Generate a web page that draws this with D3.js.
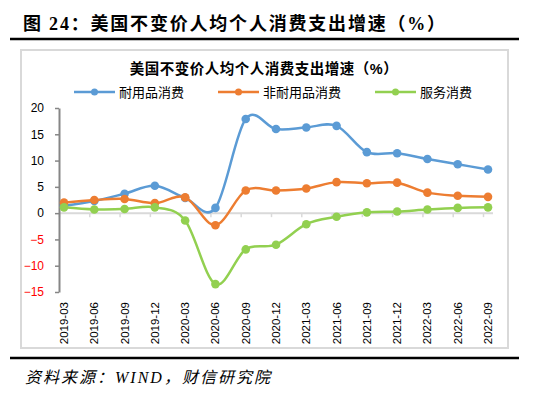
<!DOCTYPE html>
<html>
<head>
<meta charset="utf-8">
<script src="https://cdn.jsdelivr.net/npm/d3@7"></script>
<style>
    body { margin: 0; background: #fff; }
    svg text { font-family: "Liberation Sans", "Noto Sans CJK SC", sans-serif; }
</style>
</head>
<body>
<div id="chart"></div>
<script>
//VARIABLES
let categories = ['2019-03','2019-06','2019-09','2019-12','2020-03','2020-06','2020-09','2020-12',
    '2021-03','2021-06','2021-09','2021-12','2022-03','2022-06','2022-09'];
let durables = [1.4, 2.3, 3.7, 5.2, 2.9, 1.0, 17.9, 16.0, 16.3, 16.6, 11.6, 11.4, 10.3, 9.3, 8.3];
let nonDurables = [2.0, 2.5, 2.7, 1.9, 3.0, -2.3, 4.3, 4.3, 4.7, 5.9, 5.7, 5.8, 3.9, 3.3, 3.1];
let services = [1.1, 0.7, 0.8, 1.1, -1.4, -13.5, -6.9, -6.0, -2.1, -0.7, 0.15, 0.3, 0.7, 1.0, 1.1];
let seriesNames = ['耐用品消费', '非耐用品消费', '服务消费'];
let yTicks = [20, 15, 10, 5, 0, -5, -10, -15];
let colors = ['#5B9BD5', '#ED7D31', '#92D050'];

let figTitle = '图 24：美国不变价人均个人消费支出增速（%）';
let chartTitle = '美国不变价人均个人消费支出增速（%）';
let sourceText = '资料来源：WIND，财信研究院';

//INIT
initChart();

function initChart() {
    let width = 550, height = 396;
    let svg = d3.select('#chart').append('svg')
        .attr('width', width)
        .attr('height', height);

    //Figure title + rules
    svg.append('text')
        .attr('x', 23).attr('y', 30)
        .style('font-family', '"Liberation Serif", "Noto Sans CJK SC", serif')
        .style('font-size', '18px')
        .style('font-weight', 'bold')
        .style('letter-spacing', '1.8px')
        .attr('fill', '#000')
        .text(figTitle);

    svg.append('line')
        .attr('x1', 10).attr('x2', 519).attr('y1', 39).attr('y2', 39)
        .attr('stroke', '#000').attr('stroke-width', 2.5);

    svg.append('line')
        .attr('x1', 10).attr('x2', 519).attr('y1', 358).attr('y2', 358)
        .attr('stroke', '#000').attr('stroke-width', 2.5);

    svg.append('text')
        .attr('x', 25).attr('y', 383)
        .style('font-family', '"Liberation Serif", "Noto Sans CJK SC", serif')
        .style('font-size', '16px')
        .style('font-style', 'italic')
        .style('letter-spacing', '2px')
        .attr('fill', '#000')
        .text(sourceText);

    //Chart frame
    svg.append('rect')
        .attr('x', 21).attr('y', 50)
        .attr('width', 487).attr('height', 298)
        .attr('fill', '#fff')
        .attr('stroke', '#d9d9d9')
        .attr('stroke-width', 2);

    svg.append('text')
        .attr('x', 264).attr('y', 74)
        .attr('text-anchor', 'middle')
        .style('font-size', '14.5px')
        .style('font-weight', 'bold')
        .style('letter-spacing', '0.5px')
        .attr('fill', '#000')
        .text(chartTitle);

    //Scales
    let x = d3.scalePoint()
        .domain(categories)
        .range([64, 488]);

    let y = d3.scaleLinear()
        .domain([-15, 20])
        .range([292, 108]);

    //X axis (at zero)
    let xAxis = svg.append('g')
        .attr('class', 'x_axis')
        .attr('transform', 'translate(-5,' + y(0) + ')')
        .call(d3.axisBottom(x).tickSize(4).tickFormat(''));
    xAxis.select('.domain').remove();
    xAxis.selectAll('.tick line').attr('stroke', '#d9d9d9').attr('stroke-width', 1.5);

    svg.append('line')
        .attr('x1', 59).attr('x2', 493)
        .attr('y1', y(0)).attr('y2', y(0))
        .attr('stroke', '#d9d9d9').attr('stroke-width', 2);

    //X labels
    svg.append('g')
        .selectAll('text')
        .data(categories)
        .enter()
        .append('text')
        .attr('transform', function(d) { return 'translate(' + (x(d) + 4) + ',302) rotate(-90)'; })
        .attr('text-anchor', 'end')
        .style('font-size', '11.5px')
        .attr('fill', '#000')
        .text(function(d) { return d; });

    //Y axis
    let yAxis = svg.append('g')
        .attr('class', 'y_axis')
        .attr('transform', 'translate(59,0)')
        .call(d3.axisLeft(y).tickValues(yTicks).tickSize(4).tickSizeOuter(0).tickPadding(11));
    yAxis.select('.domain').attr('stroke', '#868686').attr('stroke-width', 2);
    yAxis.selectAll('.tick line').attr('stroke', '#868686').attr('stroke-width', 1.5);
    yAxis.selectAll('.tick text')
        .style('font-size', '12px')
        .style('font-family', '"Liberation Sans", Arial, sans-serif')
        .attr('fill', function(d) { return d < 0 ? '#ff0000' : '#000'; });

    //Lines
    let allSeries = [durables, nonDurables, services].map(function(values, i) {
        return {
            key: seriesNames[i],
            data: values.map(function(v, j) { return {cat: categories[j], value: v}; })
        };
    });

    let line = d3.line()
        .curve(d3.curveCardinal.tension(0))
        .x(function(d) { return x(d.cat); })
        .y(function(d) { return y(d.value); });

    let seriesG = svg.selectAll('.series')
        .data(allSeries)
        .enter()
        .append('g')
        .attr('class', 'series');

    seriesG.append('path')
        .attr('fill', 'none')
        .attr('stroke', function(d, i) { return colors[i]; })
        .attr('stroke-width', 2.5)
        .attr('d', function(d) { return line(d.data); });

    seriesG.each(function(s, i) {
        d3.select(this).selectAll('circle')
            .data(s.data)
            .enter()
            .append('circle')
            .attr('cx', function(d) { return x(d.cat); })
            .attr('cy', function(d) { return y(d.value); })
            .attr('r', 4.3)
            .attr('fill', colors[i]);
    });

    //Legend
    let legendX = [74, 218, 375];
    let legend = svg.selectAll('.legend')
        .data(seriesNames)
        .enter()
        .append('g')
        .attr('class', 'legend')
        .attr('transform', function(d, i) { return 'translate(' + legendX[i] + ',92)'; });

    legend.append('line')
        .attr('x1', 0).attr('x2', 41)
        .attr('stroke', function(d, i) { return colors[i]; })
        .attr('stroke-width', 2.5);

    legend.append('circle')
        .attr('cx', 20.5).attr('r', 3.5)
        .attr('fill', function(d, i) { return colors[i]; });

    legend.append('text')
        .attr('x', 45).attr('y', 4.5)
        .style('font-size', '13px')
        .attr('fill', '#000')
        .text(function(d) { return d; });
}
</script>
</body>
</html>
